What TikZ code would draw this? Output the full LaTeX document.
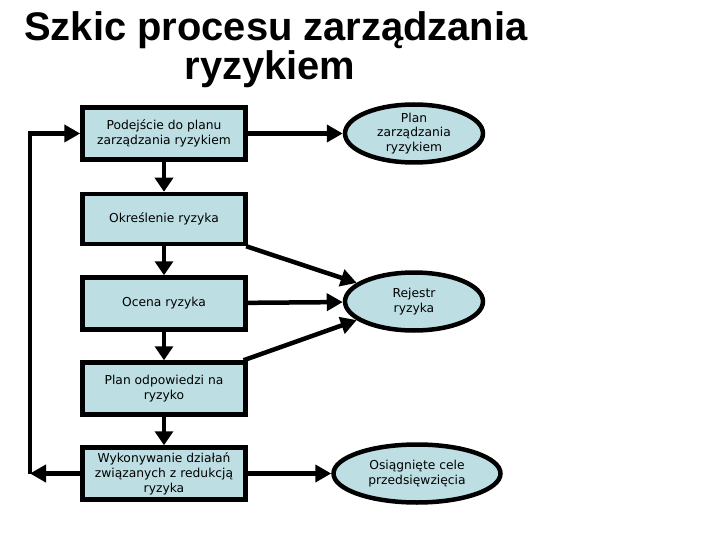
\documentclass[tikz,border=0pt]{standalone}
\usepackage{fontspec}
\setmainfont{DejaVu Sans}
\newfontfamily\tytulfont{Liberation Sans}
\usetikzlibrary{
    shapes.geometric,
    arrows.meta
}
\definecolor{blekit}{RGB}{189,222,227}
\tikzset{
    >={Triangle[length=16pt,width=17pt]},
    krok/.style={
        draw,
        fill=blekit,
        line width=4.5pt,
        minimum width=163pt,
        minimum height=52pt,
        inner sep=2pt,
        align=center,
        font=\fontsize{12.3}{15}\selectfont
    },
    wynik/.style={
        ellipse,
        draw,
        fill=blekit,
        line width=4.5pt,
        minimum width=138pt,
        minimum height=58pt,
        inner sep=0pt,
        align=center,
        font=\fontsize{12.3}{14.5}\selectfont
    },
    tytul/.style={
        anchor=base,
        font=\tytulfont\bfseries\fontsize{39.9}{40}\selectfont
    },
    wdol/.style={
        >={Triangle[length=14pt,width=18pt]}
    }
}

\begin{document}
\begin{tikzpicture}[
    x=1pt,
    y=-1pt,
    line width=4.5pt
]
    \useasboundingbox (0,0) rectangle (720,540);

    % Tytul
    \node[tytul] (tytul1) at (276,41) {Szkic procesu zarządzania};
    \node[tytul] (tytul2) at (270,80) {ryzykiem};

    % Kroki procesu
    \node[krok]                   (podejscie)  at (164,133.5) {Podejście do planu\\zarządzania ryzykiem};
    \node[krok, minimum height=50pt] (okreslenie) at (164,219) {Określenie ryzyka};
    \node[krok]                   (ocena)      at (164,303.5) {Ocena ryzyka};
    \node[krok]                   (odpowiedz)  at (164,388.5) {Plan odpowiedzi na\\ryzyko};
    \node[krok]                   (wykonanie)  at (164,473.5) {Wykonywanie działań\\związanych z redukcją\\ryzyka};

    % Wyniki
    \node[wynik]                      (plan)    at (414,133.5) {Plan\\zarządzania\\ryzykiem};
    \node[wynik]                      (rejestr) at (414,301.5) {Rejestr\\ryzyka};
    \node[wynik, minimum width=167pt] (cele)    at (417,473.5) {Osiągnięte cele\\przedsięwzięcia};

    % Petla zwrotna
    \coordinate (petlaDol)  at (30,473.5);
    \coordinate (petlaGora) at (30,133.5);

    % Przejscia
    \path[->]

        % W dol po krokach
        (podejscie)
            edge[wdol] (okreslenie)
            edge (plan)

        (okreslenie)
            edge[wdol] (ocena)
            edge (rejestr.162)

        (ocena)
            edge[wdol] (odpowiedz)
            edge (rejestr)

        (odpowiedz)
            edge[wdol] (wykonanie)
            edge (rejestr.198)

        (wykonanie)
            edge (cele)
            edge (petlaDol);

    \draw[->] (petlaDol) -- (petlaGora) -- (podejscie.west);

\end{tikzpicture}
\end{document}
